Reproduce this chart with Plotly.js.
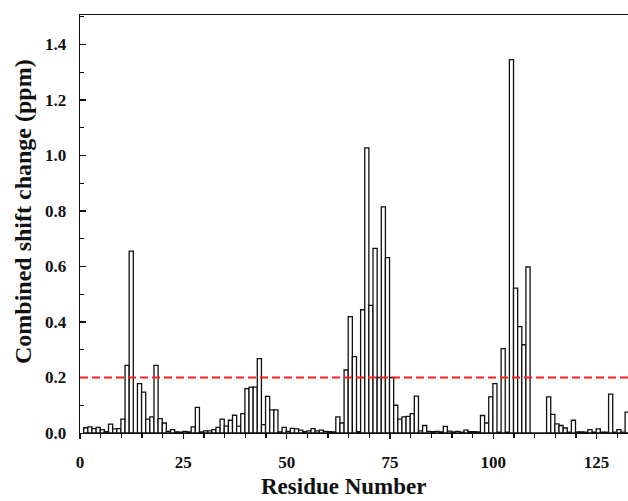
<!DOCTYPE html>
<html>
<head>
<meta charset="utf-8">
<script src="https://cdn.plot.ly/plotly-3.0.1.min.js"></script>
<style>html,body{margin:0;padding:0;background:#fff;}#chart{width:628px;height:501px;}</style>
</head>
<body>
<div id="chart"></div>
<script>
const residues = [1,2,3,4,5,6,7,8,9,10,11,12,13,14,15,16,17,18,19,20,21,22,23,24,25,26,27,28,29,30,
  31,32,33,34,35,36,37,38,39,40,41,42,43,44,45,46,47,48,49,50,51,52,53,54,55,56,57,58,59,60,
  61,62,63,64,65,66,67,68,69,70,71,72,73,74,75,76,77,78,79,80,81,82,83,84,85,86,87,88,89,90,
  91,92,93,94,95,96,97,98,99,100,101,102,103,104,105,106,107,108,109,110,111,112,113,114,115,116,117,118,119,120,
  121,122,123,124,125,126,127,128,129,130,131,132];
const shiftChange = [
  0.019,0.022,0.016,0.020,0.012,0.005,0.032,0.015,0.016,0.050,
  0.244,0.655,0.000,0.178,0.147,0.050,0.058,0.244,0.052,0.036,
  0.006,0.012,0.004,0.003,0.006,0.004,0.022,0.092,0.004,0.008,
  0.008,0.012,0.020,0.050,0.025,0.046,0.064,0.025,0.070,0.160,
  0.165,0.165,0.268,0.030,0.132,0.083,0.083,0.004,0.020,0.006,
  0.017,0.015,0.010,0.005,0.008,0.016,0.008,0.010,0.006,0.005,
  0.004,0.058,0.036,0.227,0.419,0.275,0.005,0.444,1.027,0.460,
  0.665,0.200,0.815,0.632,0.200,0.100,0.050,0.058,0.060,0.070,
  0.133,0.008,0.027,0.006,0.005,0.006,0.004,0.024,0.007,0.004,
  0.006,0.003,0.010,0.005,0.005,0.004,0.063,0.036,0.130,0.178,
  0.003,0.304,0.003,1.345,0.522,0.383,0.318,0.598,0.000,0.000,
  0.000,0.000,0.130,0.067,0.033,0.027,0.018,0.003,0.046,0.004,
  0.004,0.003,0.012,0.003,0.015,0.003,0.003,0.140,0.003,0.012,
  0.003,0.075];
const threshold = 0.2;
const xTickVals = [0,25,50,75,100,125];
const xTickText = ['0','25','50','75','100','125'];
const yTickVals = [0,0.2,0.4,0.6,0.8,1.0,1.2,1.4];
const yTickText = ['0.0','0.2','0.4','0.6','0.8','1.0','1.2','1.4'];
const xTitle = 'Residue Number';
const yTitle = 'Combined shift change (ppm)';

const serif = 'Liberation Serif, Times New Roman, serif';
const tickFont = {family: serif, size: 17, weight: 'bold', color: '#111'};
const titleFont = {family: serif, size: 24, weight: 'bold', color: '#111'};
const xTitleFont = {family: serif, size: 23, weight: 'bold', color: '#111'};

const trace = {
  type: 'bar',
  x: residues,
  y: shiftChange,
  width: 1,
  offset: -0.1,
  marker: {color: '#ffffff', line: {color: '#111111', width: 1.3}},
  hoverinfo: 'x+y'
};

const layout = {
  width: 628, height: 501,
  margin: {l: 80, r: 0, t: 15, b: 68, pad: 0},
  paper_bgcolor: '#ffffff', plot_bgcolor: '#ffffff',
  showlegend: false,
  bargap: 0,
  xaxis: {
    range: [0, 132.6],
    tickmode: 'array', tickvals: xTickVals, ticktext: xTickText,
    ticks: 'outside', ticklen: 5, tickwidth: 1.3, tickcolor: '#111',
    showline: true, linecolor: '#111', linewidth: 1.3, mirror: true,
    showgrid: false, zeroline: false,
    tickfont: tickFont, ticklabelstandoff: 8,
    minor: {dtick: 5, tick0: 0, ticks: 'outside', ticklen: 4, tickcolor: '#111', tickwidth: 1.2, showgrid: false}
  },
  yaxis: {
    range: [0, 1.506],
    tickmode: 'array', tickvals: yTickVals, ticktext: yTickText,
    ticks: 'inside', ticklen: 6, tickwidth: 1.3, tickcolor: '#111',
    showline: true, linecolor: '#111', linewidth: 1.3,
    showgrid: false, zeroline: false,
    tickfont: tickFont, ticklabelstandoff: 9,
    minor: {dtick: 0.1, tick0: 0, ticks: 'inside', ticklen: 4, tickcolor: '#111', tickwidth: 1.2, showgrid: false}
  },
  shapes: [{
    type: 'line', xref: 'paper', x0: 0, x1: 1, yref: 'y', y0: threshold, y1: threshold,
    line: {color: '#ff2020', width: 2, dash: '8px,4px'}, layer: 'above'
  }],
  annotations: [
    {text: xTitle, xref: 'paper', yref: 'paper', x: (343 - 80) / 548, y: (433 - 486) / 418,
     xanchor: 'center', yanchor: 'middle', showarrow: false, font: xTitleFont},
    {text: yTitle, xref: 'paper', yref: 'paper', x: (23 - 80) / 548, y: (433 - 212) / 418,
     xanchor: 'center', yanchor: 'middle', textangle: -90, showarrow: false, font: titleFont}
  ]
};

Plotly.newPlot('chart', [trace], layout, {displayModeBar: false, staticPlot: true});
</script>
</body>
</html>
